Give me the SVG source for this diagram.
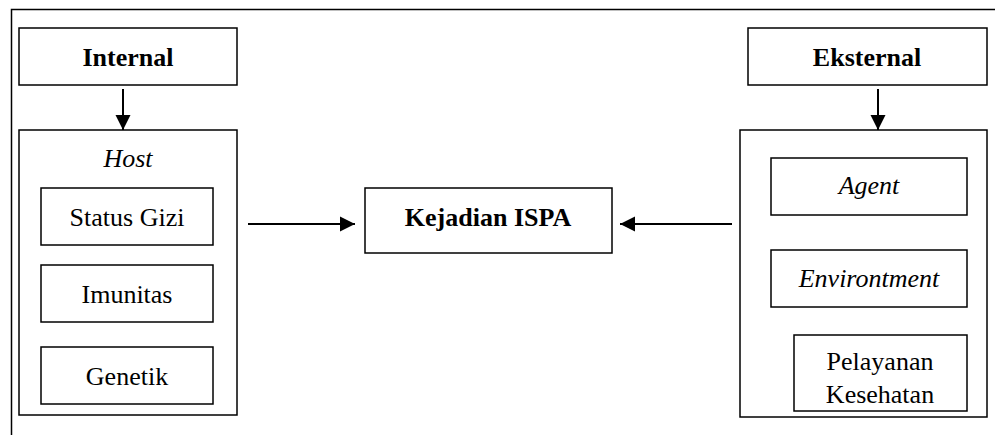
<svg xmlns="http://www.w3.org/2000/svg" width="995" height="435" viewBox="0 0 995 435">
<style>
  .box { fill: #fff; stroke: #000; stroke-width: 1.5; }
  .t { font-family: "Liberation Serif", "Times New Roman", serif; font-size: 26px; fill: #000; text-anchor: middle; }
  .b { font-weight: bold; }
  .i { font-style: italic; }
  .conn { stroke: #000; stroke-width: 2; fill: none; }
</style>
<defs>
  <marker id="ah" markerUnits="userSpaceOnUse" markerWidth="16" markerHeight="16" viewBox="0 0 16 16" refX="15" refY="8" orient="auto">
    <path d="M0,0.5 L15,8 L0,15.5 Z" fill="#000"/>
  </marker>
</defs>
<rect width="995" height="435" fill="#fff"/>
<polyline points="11.5,435 11.5,9.5 995,9.5" fill="none" stroke="#000" stroke-width="1.5"/>

<g id="internal">
  <rect class="box" x="19" y="28" width="218" height="57"/>
  <text class="t b" x="128" y="66">Internal</text>
</g>
<g id="host">
  <rect class="box" x="19" y="130" width="218" height="285"/>
  <text class="t i" x="128" y="167">Host</text>
</g>
<g id="status-gizi">
  <rect class="box" x="41" y="188" width="172" height="57"/>
  <text class="t" x="127" y="226">Status Gizi</text>
</g>
<g id="imunitas">
  <rect class="box" x="41" y="265" width="172" height="57"/>
  <text class="t" x="127" y="303">Imunitas</text>
</g>
<g id="genetik">
  <rect class="box" x="41" y="347" width="172" height="57"/>
  <text class="t" x="127" y="385">Genetik</text>
</g>
<g id="kejadian-ispa">
  <rect class="box" x="365" y="188" width="247" height="65"/>
  <text class="t b" x="488" y="226">Kejadian ISPA</text>
</g>
<g id="eksternal">
  <rect class="box" x="748" y="28" width="239" height="57"/>
  <text class="t b" x="867" y="66">Eksternal</text>
</g>
<g id="eksternal-group">
  <rect class="box" x="740" y="130" width="247" height="287"/>
</g>
<g id="agent">
  <rect class="box" x="771" y="158" width="196" height="57"/>
  <text class="t i" x="869" y="194">Agent</text>
</g>
<g id="environtment">
  <rect class="box" x="771" y="250" width="196" height="57"/>
  <text class="t i" x="869" y="287">Environtment</text>
</g>
<g id="pelayanan-kesehatan">
  <rect class="box" x="794" y="335" width="173" height="76"/>
  <text class="t" x="880" y="370">Pelayanan</text>
  <text class="t" x="880" y="403">Kesehatan</text>
</g>

<g id="connectors">
  <line class="conn" x1="123" y1="89" x2="123" y2="130" marker-end="url(#ah)"/>
  <line class="conn" x1="878" y1="89" x2="878" y2="130" marker-end="url(#ah)"/>
  <line class="conn" x1="248" y1="224" x2="355" y2="224" marker-end="url(#ah)"/>
  <line class="conn" x1="732" y1="224" x2="620" y2="224" marker-end="url(#ah)"/>
</g>
</svg>
